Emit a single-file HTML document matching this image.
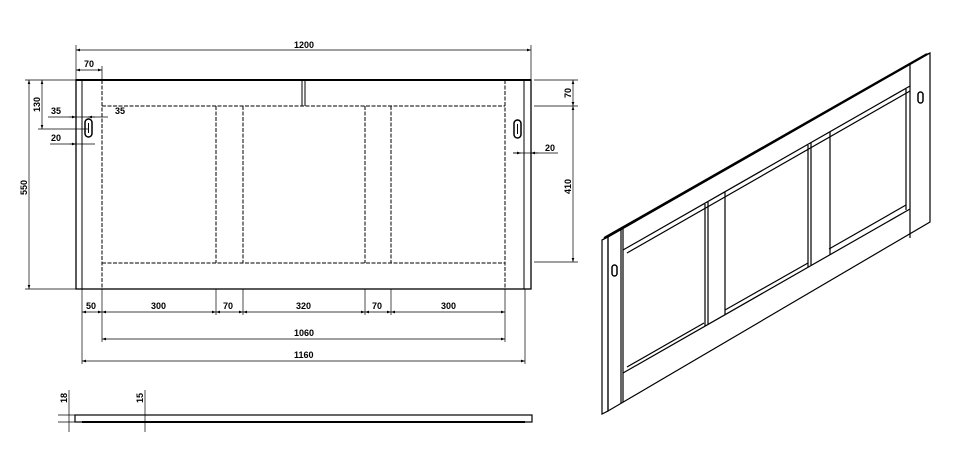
<!DOCTYPE html><html><head><style>body{margin:0;background:#fff}svg{display:block}text{font-family:"Liberation Sans",sans-serif;font-size:9px;font-weight:bold;fill:#000}</style></head><body>
<svg width="960" height="460" viewBox="0 0 960 460" stroke="#000" fill="none" stroke-width="1">
<defs><marker id="a" markerWidth="6" markerHeight="4" refX="6" refY="2" orient="auto-start-reverse"><path d="M0,0L6,2L0,4z" fill="#000" stroke="none"/></marker></defs>
<rect x="76" y="80" width="455" height="209" stroke-width="1.3"/>
<line x1="76" y1="80" x2="531" y2="80" stroke-width="2"/>
<line x1="82" y1="80" x2="82" y2="289"/>
<line x1="524" y1="80" x2="524" y2="289"/>
<g stroke-dasharray="4,1.5">
<line x1="102" y1="80" x2="102" y2="289"/><line x1="505" y1="80" x2="505" y2="289"/>
<line x1="102" y1="106" x2="505" y2="106"/><line x1="102" y1="263" x2="505" y2="263"/>
<line x1="216" y1="106" x2="216" y2="263"/><line x1="243" y1="106" x2="243" y2="263"/>
<line x1="365" y1="106" x2="365" y2="263"/><line x1="391" y1="106" x2="391" y2="263"/>
</g>
<line x1="302" y1="80" x2="302" y2="106"/><line x1="305" y1="80" x2="305" y2="106"/>
<rect x="85" y="119" width="7" height="18" rx="3.5" stroke-width="1.5"/><line x1="88.5" y1="123" x2="88.5" y2="133"/>
<rect x="514" y="120" width="7" height="18" rx="3.5" stroke-width="1.5"/><line x1="517.5" y1="124" x2="517.5" y2="134"/>
<g stroke-width="0.7">
<line x1="76" y1="45" x2="76" y2="80"/><line x1="531" y1="45" x2="531" y2="80"/>
<line x1="76" y1="50" x2="531" y2="50" marker-start="url(#a)" marker-end="url(#a)"/>
<line x1="102" y1="66" x2="102" y2="80"/>
<line x1="76" y1="70" x2="102" y2="70" marker-start="url(#a)" marker-end="url(#a)"/>
<line x1="25" y1="80" x2="76" y2="80"/><line x1="25" y1="289" x2="76" y2="289"/>
<line x1="29" y1="80" x2="29" y2="289" marker-start="url(#a)" marker-end="url(#a)"/>
<line x1="38" y1="129" x2="88" y2="129"/>
<line x1="42" y1="80" x2="42" y2="129" marker-start="url(#a)" marker-end="url(#a)"/>
<line x1="48" y1="117" x2="108" y2="117"/>
<line x1="69" y1="117" x2="76" y2="117" marker-end="url(#a)"/><line x1="95" y1="117" x2="88" y2="117" marker-end="url(#a)"/>
<line x1="50" y1="144" x2="95" y2="144"/>
<line x1="70" y1="144" x2="76" y2="144" marker-end="url(#a)"/>
<line x1="534" y1="80" x2="578" y2="80"/><line x1="534" y1="106" x2="578" y2="106"/><line x1="534" y1="262" x2="578" y2="262"/>
<line x1="573" y1="80" x2="573" y2="106" marker-start="url(#a)" marker-end="url(#a)"/>
<line x1="573" y1="106" x2="573" y2="262" marker-start="url(#a)" marker-end="url(#a)"/>
<line x1="513" y1="153" x2="558" y2="153"/>
<line x1="513" y1="153" x2="521" y2="153" marker-end="url(#a)"/><line x1="538" y1="153" x2="531" y2="153" marker-end="url(#a)"/>
<line x1="82" y1="289" x2="82" y2="364"/><line x1="102" y1="289" x2="102" y2="342"/><line x1="216" y1="289" x2="216" y2="315"/><line x1="243" y1="289" x2="243" y2="315"/><line x1="365" y1="289" x2="365" y2="315"/><line x1="391" y1="289" x2="391" y2="315"/><line x1="505" y1="289" x2="505" y2="342"/><line x1="525" y1="289" x2="525" y2="364"/>
<line x1="82" y1="312" x2="102" y2="312" marker-start="url(#a)" marker-end="url(#a)"/>
<line x1="102" y1="312" x2="216" y2="312" marker-start="url(#a)" marker-end="url(#a)"/>
<line x1="216" y1="312" x2="243" y2="312" marker-start="url(#a)" marker-end="url(#a)"/>
<line x1="243" y1="312" x2="365" y2="312" marker-start="url(#a)" marker-end="url(#a)"/>
<line x1="365" y1="312" x2="391" y2="312" marker-start="url(#a)" marker-end="url(#a)"/>
<line x1="391" y1="312" x2="505" y2="312" marker-start="url(#a)" marker-end="url(#a)"/>
<line x1="102" y1="339" x2="505" y2="339" marker-start="url(#a)" marker-end="url(#a)"/>
<line x1="82" y1="361" x2="525" y2="361" marker-start="url(#a)" marker-end="url(#a)"/>
<line x1="58" y1="415" x2="75" y2="415"/><line x1="58" y1="422" x2="75" y2="422"/>
<line x1="69" y1="390" x2="69" y2="432"/><line x1="145" y1="390" x2="145" y2="432"/>
</g>
<g stroke="none">
<text x="294" y="48">1200</text><text x="84" y="67">70</text>
<text x="51" y="114">35</text><text x="115" y="114">35</text><text x="51" y="141">20</text><text x="545" y="151">20</text>
<text x="86" y="309">50</text>
<text x="151" y="309">300</text><text x="223" y="309">70</text><text x="296" y="309">320</text><text x="372" y="309">70</text><text x="441" y="309">300</text>
<text x="294" y="336">1060</text><text x="294" y="358">1160</text>
<text transform="translate(27,195) rotate(-90)">550</text>
<text transform="translate(40,112) rotate(-90)">130</text>
<text transform="translate(571,98) rotate(-90)">70</text>
<text transform="translate(571,194) rotate(-90)">410</text>
<text transform="translate(67,403) rotate(-90)">18</text>
<text transform="translate(143,403) rotate(-90)">15</text>
</g>
<rect x="75" y="415" width="457" height="7" stroke-width="1.2"/>
<line x1="82" y1="422" x2="525" y2="422" stroke-width="2"/>
<g stroke-width="1.2">
<polygon points="602,240 608,237 608,411 602,414"/>
<polygon points="602,240 925,55 930,53 608,237"/>
<line x1="604" y1="238" x2="927" y2="54" stroke-width="2"/>
<polygon points="608,237 930,53 930,222 608,411"/>
<line x1="623" y1="228" x2="623" y2="402"/><line x1="621" y1="229" x2="621" y2="403"/>
<line x1="910" y1="64" x2="910" y2="238"/>
<line x1="623" y1="250" x2="910" y2="86"/><line x1="627" y1="253" x2="910" y2="91"/>
<line x1="623" y1="373" x2="910" y2="209"/><line x1="627" y1="367" x2="704" y2="323"/><line x1="829" y1="249" x2="906" y2="205"/><line x1="725" y1="310" x2="808" y2="263"/>
<line x1="705" y1="204" x2="705" y2="326"/><line x1="708" y1="202" x2="708" y2="324"/>
<line x1="725" y1="192" x2="725" y2="315"/>
<line x1="808" y1="145" x2="808" y2="267"/><line x1="811" y1="143" x2="811" y2="265"/>
<line x1="830" y1="132" x2="830" y2="255"/>
<line x1="906" y1="89" x2="906" y2="210"/>
</g>
<rect x="612" y="265" width="5" height="11" rx="2.5" stroke-width="1.5"/>
<rect x="918" y="92" width="5" height="11" rx="2.5" stroke-width="1.5"/>
</svg>
</body></html>
